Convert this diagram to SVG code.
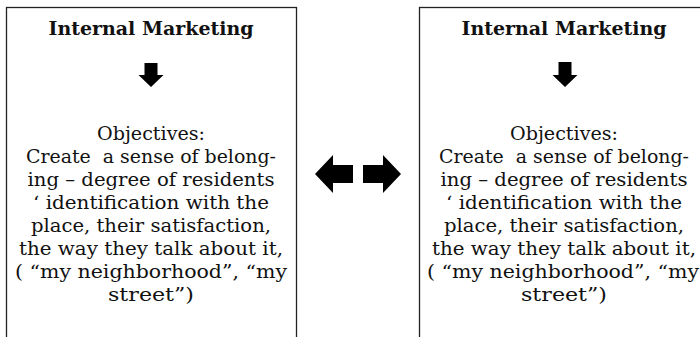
<svg xmlns="http://www.w3.org/2000/svg" width="700" height="337" viewBox="0 0 700 337">
<style>
.box{fill:#fff;stroke:#222;stroke-width:1.3}
.title{font-family:"DejaVu Serif","Liberation Serif",serif;font-weight:bold;font-size:19px;fill:#111;text-anchor:middle}
.body{font-family:"DejaVu Serif","Liberation Serif",serif;font-size:19px;fill:#111;text-anchor:middle;white-space:pre}
.arr{fill:#000}
</style>
<rect width="700" height="337" fill="#fff"/>
<g id="node-left">
<rect class="box" x="6.5" y="7.5" width="290" height="345"/>
<text class="title" x="151" y="35" textLength="205" lengthAdjust="spacingAndGlyphs">Internal Marketing</text>
<polygon class="arr" points="144.5,63 157.5,63 157.5,75 163.5,75 151,87 138.5,75 144.5,75"/>
<text class="body" x="151" y="140" textLength="108" lengthAdjust="spacingAndGlyphs">Objectives:</text>
<text class="body" x="151" y="163" textLength="250" lengthAdjust="spacingAndGlyphs">Create  a sense of belong-</text>
<text class="body" x="151" y="186" textLength="247" lengthAdjust="spacingAndGlyphs">ing – degree of residents</text>
<text class="body" x="151" y="209" textLength="236" lengthAdjust="spacingAndGlyphs">‘ identification with the</text>
<text class="body" x="151" y="232" textLength="240" lengthAdjust="spacingAndGlyphs">place, their satisfaction,</text>
<text class="body" x="151" y="255" textLength="264" lengthAdjust="spacingAndGlyphs">the way they talk about it,</text>
<text class="body" x="151" y="278" textLength="272" lengthAdjust="spacingAndGlyphs">( “my neighborhood”, “my</text>
<text class="body" x="151" y="301" textLength="86" lengthAdjust="spacingAndGlyphs">street”)</text>
</g>
<g id="node-right">
<rect class="box" x="419.5" y="7.5" width="290" height="345"/>
<text class="title" x="564" y="35" textLength="205" lengthAdjust="spacingAndGlyphs">Internal Marketing</text>
<polygon class="arr" points="558.5,62 571.5,62 571.5,75 577.5,75 565,87 552.5,75 558.5,75"/>
<text class="body" x="564" y="140" textLength="108" lengthAdjust="spacingAndGlyphs">Objectives:</text>
<text class="body" x="564" y="163" textLength="250" lengthAdjust="spacingAndGlyphs">Create  a sense of belong-</text>
<text class="body" x="564" y="186" textLength="247" lengthAdjust="spacingAndGlyphs">ing – degree of residents</text>
<text class="body" x="564" y="209" textLength="236" lengthAdjust="spacingAndGlyphs">‘ identification with the</text>
<text class="body" x="564" y="232" textLength="240" lengthAdjust="spacingAndGlyphs">place, their satisfaction,</text>
<text class="body" x="564" y="255" textLength="264" lengthAdjust="spacingAndGlyphs">the way they talk about it,</text>
<text class="body" x="563" y="278" textLength="272" lengthAdjust="spacingAndGlyphs">( “my neighborhood”, “my</text>
<text class="body" x="564" y="301" textLength="86" lengthAdjust="spacingAndGlyphs">street”)</text>
</g>
<g id="connectors">
<polygon class="arr" points="315,174 333,155 333,165 353,165 353,183 333,183 333,193"/>
<polygon class="arr" points="401,174 383,155 383,165 363,165 363,183 383,183 383,193"/>
</g>
</svg>
